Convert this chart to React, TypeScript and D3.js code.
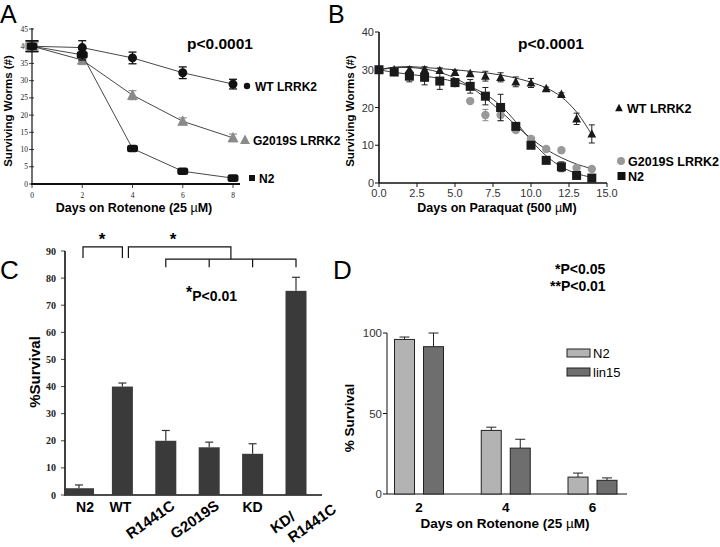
import React from 'react';
import * as d3 from 'd3';

// Panel A: rotenone survival (surviving worms, #)
const daysA = [0, 2, 4, 6, 8];
const wtA = [40, 39.6, 36.6, 32.3, 29];
const wtAErr = [1.6, 2, 1.7, 1.7, 1.4];
const gA = [40, 36, 25.8, 18.2, 13.4];
const gAErr = [1, 1.3, 1.3, 1.0, 1.1];
const n2A = [40, 37.5, 10.3, 3.7, 1.7];
const n2AErr = [1.5, 1.5, 0.5, 0.5, 0.5];
const ticksAY = [0, 5, 10, 15, 20, 25, 30, 35, 40, 45];

// Panel B: paraquat survival
const daysB = [0, 1, 2, 3, 4, 5, 6, 7, 8, 9, 10, 11, 12, 13, 14];
const wtB = [30, 30, 30, 30, 29.8, 29.3, 29, 28.3, 28, 26.8, 26.5, 25, 23.5, 17, 13];
const wtBErr = [0, 0.3, 0.8, 0.8, 0.7, 0.5, 0.4, 1.3, 1.2, 1.3, 1.2, 0.4, 0.4, 1.5, 2.4];
const gB = [30, 29.4, 28.4, 28, 27, 26.4, 21.7, 18, 18, 14, 11.7, 9, 8.7, 4, 3.7];
const gBErr = [0, 0.4, 0.8, 0.8, 0.8, 0.8, 0.6, 1.5, 1.5, 0.5, 0.5, 0.3, 0.3, 0.3, 0.3];
const n2B = [30, 29.4, 28.3, 28, 27, 26.6, 25.6, 23, 20, 15, 10, 6, 4.3, 2, 1.3];
const n2BErr = [0, 0.5, 1.5, 2, 2.2, 1, 1.8, 2.3, 3.5, 0.8, 0.6, 0.6, 1.3, 0.4, 0.4];
// fitted curves
const fitWtB = [30, 30.7, 30.8, 30.6, 30.3, 30, 29.6, 29.2, 28.6, 27.8, 26.7, 25.2, 22.8, 18.8, 12.8];
const fitGB = [30, 30.5, 30.6, 30.2, 29.3, 27.8, 25.5, 22.5, 19, 15.3, 11.8, 8.9, 6.7, 5, 3.8];
const fitN2B = [30, 29.3, 28.8, 28.3, 27.7, 26.8, 25.5, 23.5, 20.5, 16.2, 11.3, 7.2, 4.3, 2.5, 1.5];
const ticksBY = [0, 10, 20, 30, 40];
const ticksBX = [0, 2.5, 5, 7.5, 10, 12.5, 15];

// Panel C: % survival per strain
const catsC = ['N2', 'WT', 'R1441C', 'G2019S', 'KD', 'KD/R1441C'];
const valsC = [2.5, 40, 20, 17.6, 15.2, 75.3];
const errC = [1.2, 1.3, 3.8, 1.9, 3.7, 5];
const ticksCY = [0, 10, 20, 30, 40, 50, 60, 70, 80, 90];

// Panel D: N2 vs lin15
const daysD = ['2', '4', '6'];
const seriesD = ['N2', 'lin15'];
const n2D = [96, 39.5, 10.5];
const n2DErr = [1.5, 2, 2.5];
const linD = [91.5, 28.5, 8.5];
const linDErr = [8.5, 5.5, 1.5];
const ticksDY = [0, 50, 100];

const sans = '"Liberation Sans", Arial, Helvetica, sans-serif';
const serif = '"Liberation Serif", "Times New Roman", serif';

const xA = d3.scaleLinear().domain([0, 8]).range([32, 233]);
const yA = d3.scaleLinear().domain([0, 45]).range([184, 29]);
const xB = d3.scaleLinear().domain([0, 15]).range([379, 607]);
const yB = d3.scaleLinear().domain([0, 40]).range([183, 32]);
const xC = d3.scalePoint<string>().domain(catsC).range([79, 296]);
const yC = d3.scaleLinear().domain([0, 90]).range([495, 251]);
const xD = d3.scalePoint<string>().domain(daysD).range([419, 592.5]);
const xD1 = d3.scalePoint<string>().domain(seriesD).range([-14.5, 14.5]);
const yD = d3.scaleLinear().domain([0, 100]).range([494, 333]);

const tri = (cx: number, cy: number, s: number) =>
  `M${cx},${cy - s * 0.6}L${cx + s * 0.55},${cy + s * 0.45}L${cx - s * 0.55},${cy + s * 0.45}Z`;

function ErrBar({ x, y0, y1, cap, color = '#222', both = true, w = 1 }: any) {
  return (
    <g stroke={color} strokeWidth={w}>
      <line x1={x} x2={x} y1={y0} y2={y1} />
      <line x1={x - cap / 2} x2={x + cap / 2} y1={y1} y2={y1} />
      {both && <line x1={x - cap / 2} x2={x + cap / 2} y1={y0} y2={y0} />}
    </g>
  );
}

function PanelA() {
  const line = d3.line<number>().x((d, i) => xA(daysA[i])).y(d => yA(d));
  const series = [
    { v: wtA, e: wtAErr, color: '#111', shape: 'circle' },
    { v: gA, e: gAErr, color: '#8a8a8a', shape: 'tri' },
    { v: n2A, e: n2AErr, color: '#111', shape: 'square' },
  ];
  return (
    <g>
      <text x={0} y={23} fontFamily={sans} fontSize={25}>A</text>
      <line x1={xA(0)} x2={xA(0)} y1={yA(45) - 1} y2={yA(0)} stroke="#111" strokeWidth={1.2} />
      <line x1={xA(0) - 1} x2={240} y1={yA(0)} y2={yA(0)} stroke="#111" strokeWidth={2.2} />
      {ticksAY.map(t => (
        <g key={t}>
          <line x1={xA(0) - 3} x2={xA(0) + 2} y1={yA(t)} y2={yA(t)} stroke="#111" strokeWidth={0.8} />
          <text x={xA(0) - 4} y={yA(t) + 2.5} textAnchor="end" fontFamily={serif} fontSize={7.5} fill="#222">{t}</text>
        </g>
      ))}
      {daysA.map(t => (
        <g key={t}>
          <line x1={xA(t)} x2={xA(t)} y1={yA(0)} y2={yA(0) + 4} stroke="#111" strokeWidth={0.8} />
          <text x={xA(t)} y={yA(0) + 14} textAnchor="middle" fontFamily={serif} fontSize={7.5} fill="#222">{t}</text>
        </g>
      ))}
      <text x={134} y={212} textAnchor="middle" fontFamily={sans} fontWeight="bold" fontSize={12.5}>
        Days on Rotenone  (25 <tspan fontWeight="normal">µ</tspan>M)
      </text>
      <text transform="translate(12,111) rotate(-90)" textAnchor="middle" fontFamily={sans} fontWeight="bold" fontSize={11.5}>
        Surviving Worms (#)
      </text>
      <text x={187} y={49} fontFamily={sans} fontWeight="bold" fontSize={15.5}>p&lt;0.0001</text>
      {series.map((s, si) => (
        <g key={si}>
          <path d={line(s.v) || ''} fill="none" stroke="#333" strokeWidth={0.9} />
          {s.v.map((v, i) => (
            <g key={i}>
              <ErrBar x={xA(daysA[i])} y0={yA(v - s.e[i])} y1={yA(v + s.e[i])} cap={i === 0 ? 13 : 8} color={s.color === '#111' ? '#111' : '#999'} w={1.3} />
              {s.shape === 'circle' && <circle cx={xA(daysA[i])} cy={yA(v)} r={4.5} fill={s.color} />}
              {s.shape === 'tri' && <path d={tri(xA(daysA[i]), yA(v), 10)} fill={s.color} />}
              {s.shape === 'square' && <rect x={xA(daysA[i]) - 5.5} y={yA(v) - 3.8} width={11} height={7.6} rx={2.5} fill={s.color} />}
            </g>
          ))}
        </g>
      ))}
      <circle cx={247} cy={86} r={3.2} fill="#111" />
      <text x={255} y={90.5} fontFamily={sans} fontWeight="bold" fontSize={12}>WT LRRK2</text>
      <path d={tri(245, 140, 9)} fill="#8a8a8a" />
      <text x={253} y={144.5} fontFamily={sans} fontWeight="bold" fontSize={12}>G2019S LRRK2</text>
      <rect x={249} y={175} width={6} height={6} fill="#111" />
      <text x={259} y={182.5} fontFamily={sans} fontWeight="bold" fontSize={12}>N2</text>
    </g>
  );
}

function PanelB() {
  const curve = (vals: number[]) =>
    d3.line<number>().x((d, i) => xB(daysB[i])).y(d => yB(d)).curve(d3.curveCatmullRom)(vals) || '';
  return (
    <g>
      <text x={328} y={23} fontFamily={sans} fontSize={25}>B</text>
      <line x1={xB(0)} x2={xB(0)} y1={yB(40)} y2={yB(0)} stroke="#111" strokeWidth={1.6} />
      <line x1={xB(0)} x2={xB(15)} y1={yB(0)} y2={yB(0)} stroke="#111" strokeWidth={1.6} />
      {ticksBY.map(t => (
        <g key={t}>
          <line x1={xB(0) - 4} x2={xB(0)} y1={yB(t)} y2={yB(t)} stroke="#111" />
          <text x={xB(0) - 5} y={yB(t) + 4} textAnchor="end" fontFamily={sans} fontSize={11} fill="#333">{t}</text>
        </g>
      ))}
      {ticksBX.map(t => (
        <g key={t}>
          <line x1={xB(t)} x2={xB(t)} y1={yB(0)} y2={yB(0) + 4} stroke="#111" />
          <text x={xB(t)} y={yB(0) + 14} textAnchor="middle" fontFamily={sans} fontSize={11} fill="#333">{t.toFixed(1)}</text>
        </g>
      ))}
      <text x={497} y={212} textAnchor="middle" fontFamily={sans} fontWeight="bold" fontSize={12.5}>
        Days on Paraquat (500 <tspan fontWeight="normal">µ</tspan>M)
      </text>
      <text transform="translate(354,111) rotate(-90)" textAnchor="middle" fontFamily={sans} fontWeight="bold" fontSize={11.5}>
        Surviving Worms (#)
      </text>
      <text x={518} y={49} fontFamily={sans} fontWeight="bold" fontSize={15.5}>p&lt;0.0001</text>
      {[fitWtB, fitGB, fitN2B].map((f, i) => (
        <path key={i} d={curve(f)} fill="none" stroke="#222" strokeWidth={0.9} />
      ))}
      {gB.map((v, i) => (
        <g key={'g' + i}>
          <ErrBar x={xB(daysB[i])} y0={yB(v - gBErr[i])} y1={yB(v + gBErr[i])} cap={6} color="#888" />
          <circle cx={xB(daysB[i])} cy={yB(v)} r={4.2} fill="#999" />
        </g>
      ))}
      {n2B.map((v, i) => (
        <g key={'n' + i}>
          <ErrBar x={xB(daysB[i])} y0={yB(v - n2BErr[i])} y1={yB(v + n2BErr[i])} cap={6} />
          <rect x={xB(daysB[i]) - 4.5} y={yB(v) - 4.5} width={9} height={9} fill="#1a1a1a" />
        </g>
      ))}
      {wtB.map((v, i) => (
        <g key={'w' + i}>
          <ErrBar x={xB(daysB[i])} y0={yB(v - wtBErr[i])} y1={yB(v + wtBErr[i])} cap={6} />
          <path d={tri(xB(daysB[i]), yB(v), 8)} fill="#1a1a1a" />
        </g>
      ))}
      <path d={tri(619, 108, 7)} fill="#111" />
      <text x={627} y={112.5} fontFamily={sans} fontWeight="bold" fontSize={12.5}>WT LRRK2</text>
      <circle cx={621} cy={161} r={4} fill="#999" />
      <text x={628} y={166} fontFamily={sans} fontWeight="bold" fontSize={12.5}>G2019S LRRK2</text>
      <rect x={617.5} y={172} width={8} height={8} fill="#111" />
      <text x={628} y={181} fontFamily={sans} fontWeight="bold" fontSize={12.5}>N2</text>
    </g>
  );
}

function PanelC() {
  const x = (c: string) => xC(c) as number;
  const bw = (c: string) => (c === 'N2' ? 30 : 21);
  const lowY = yC(87), legY = yC(84), topY = yC(91.5), topLeg = yC(87.4);
  const midGK = (x('G2019S') + x('KD')) / 2;
  return (
    <g>
      <text x={0} y={279} fontFamily={sans} fontSize={26}>C</text>
      <line x1={65} x2={65} y1={yC(90)} y2={yC(0)} stroke="#111" strokeWidth={1.6} />
      <line x1={64} x2={322} y1={yC(0)} y2={yC(0)} stroke="#111" strokeWidth={1.6} />
      {ticksCY.map(t => (
        <g key={t}>
          <line x1={61} x2={65} y1={yC(t)} y2={yC(t)} stroke="#111" strokeWidth={0.8} />
          <text x={56} y={yC(t) + 3.5} textAnchor="end" fontFamily={serif} fontWeight="bold" fontSize={10} fill="#222">{t}</text>
        </g>
      ))}
      {catsC.map((c, i) => (
        <g key={c}>
          <rect x={x(c) - bw(c) / 2} y={yC(valsC[i])} width={bw(c)} height={yC(0) - yC(valsC[i])} fill="#3a3a3a" />
          <ErrBar x={x(c)} y0={yC(valsC[i])} y1={yC(valsC[i] + errC[i])} cap={8} both={false} color="#333" w={1.2} />
        </g>
      ))}
      <text x={x('N2') + 6} y={512} textAnchor="middle" fontFamily={sans} fontWeight="bold" fontSize={14}>N2</text>
      <text x={x('WT') - 2} y={512} textAnchor="middle" fontFamily={sans} fontWeight="bold" fontSize={14}>WT</text>
      <text transform={`translate(${x('R1441C') + 10},508) rotate(-35)`} textAnchor="end" fontFamily={sans} fontWeight="bold" fontSize={15}>R1441C</text>
      <text transform={`translate(${x('G2019S') + 11},508) rotate(-35)`} textAnchor="end" fontFamily={sans} fontWeight="bold" fontSize={15}>G2019S</text>
      <text x={x('KD')} y={512} textAnchor="middle" fontFamily={sans} fontWeight="bold" fontSize={14}>KD</text>
      <text transform={`translate(${x('KD/R1441C') - 21},534) rotate(-35)`} fontFamily={sans} fontWeight="bold" fontSize={15}>
        <tspan x={0} dy={0}>KD/</tspan>
        <tspan x={9} dy={17.5}>R1441C</tspan>
      </text>
      <text transform="translate(40,372) rotate(-90)" textAnchor="middle" fontFamily={sans} fontWeight="bold" fontSize={15}>%Survival</text>
      <g stroke="#111" strokeWidth={1.2} fill="none">
        <path d={`M${x('N2') + 4},${topLeg}V${topY}H${x('WT')}V${topLeg}`} />
        <path d={`M${x('WT') + 6},${topLeg}V${topY}H${midGK}V${lowY}`} />
        <path d={`M${x('R1441C')},${legY}V${lowY}H${x('KD/R1441C')}V${legY}`} />
        <path d={`M${x('G2019S')},${lowY}V${legY}M${x('KD')},${lowY}V${legY}`} />
      </g>
      <text x={102} y={245} textAnchor="middle" fontFamily={sans} fontWeight="bold" fontSize={17}>*</text>
      <text x={173} y={245} textAnchor="middle" fontFamily={sans} fontWeight="bold" fontSize={17}>*</text>
      <text x={186} y={301} fontFamily={sans} fontWeight="bold" fontSize={14}>
        <tspan fontSize={16} dy={-3}>*</tspan><tspan dy={3}>P&lt;0.01</tspan>
      </text>
    </g>
  );
}

function PanelD() {
  const bw = 20;
  const cols: Record<string, string> = { N2: '#b3b3b3', lin15: '#6e6e6e' };
  const vals: Record<string, number[]> = { N2: n2D, lin15: linD };
  const errs: Record<string, number[]> = { N2: n2DErr, lin15: linDErr };
  return (
    <g>
      <text x={333} y={279} fontFamily={sans} fontSize={26}>D</text>
      <line x1={387} x2={387} y1={yD(100)} y2={yD(0)} stroke="#111" strokeWidth={1} />
      <line x1={387} x2={627} y1={yD(0)} y2={yD(0)} stroke="#111" strokeWidth={1} />
      {ticksDY.map(t => (
        <g key={t}>
          <line x1={383} x2={387} y1={yD(t)} y2={yD(t)} stroke="#111" />
          <text x={382} y={yD(t) + 4} textAnchor="end" fontFamily={sans} fontSize={11.5} fill="#333">{t}</text>
        </g>
      ))}
      {daysD.map((d, i) => (
        <g key={d}>
          {seriesD.map(s => {
            const cx = (xD(d) as number) + (xD1(s) as number);
            const v = vals[s][i];
            return (
              <g key={s}>
                <ErrBar x={cx} y0={yD(v)} y1={yD(v + errs[s][i])} cap={10} both={false} color="#222" w={1} />
                <rect x={cx - bw / 2} y={yD(v)} width={bw} height={yD(0) - yD(v)} fill={cols[s]} stroke="#222" strokeWidth={1} />
              </g>
            );
          })}
          <text x={xD(d) as number} y={512} textAnchor="middle" fontFamily={sans} fontWeight="bold" fontSize={13.5}>{d}</text>
        </g>
      ))}
      <text x={505} y={528} textAnchor="middle" fontFamily={sans} fontWeight="bold" fontSize={13.5}>
        Days on Rotenone (25 <tspan fontWeight="normal">µ</tspan>M)
      </text>
      <text transform="translate(354,418) rotate(-90)" textAnchor="middle" fontFamily={sans} fontWeight="bold" fontSize={13.5}>% Survival</text>
      {seriesD.map((s, i) => (
        <g key={s}>
          <rect x={567} y={349 + i * 19} width={23} height={8} fill={cols[s]} stroke="#222" strokeWidth={1} />
          <text x={593} y={358 + i * 19} fontFamily={sans} fontSize={13}>{s}</text>
        </g>
      ))}
      <text x={555} y={274} fontFamily={sans} fontWeight="bold" fontSize={14}>*P&lt;0.05</text>
      <text x={550} y={291} fontFamily={sans} fontWeight="bold" fontSize={14}>**P&lt;0.01</text>
    </g>
  );
}

export default function App() {
  return (
    <svg width={720} height={547} style={{ position: 'absolute', left: 0, top: 0, background: '#fff' }}>
      <rect width={720} height={547} fill="#fff" />
      <PanelA />
      <PanelB />
      <PanelC />
      <PanelD />
    </svg>
  );
}
